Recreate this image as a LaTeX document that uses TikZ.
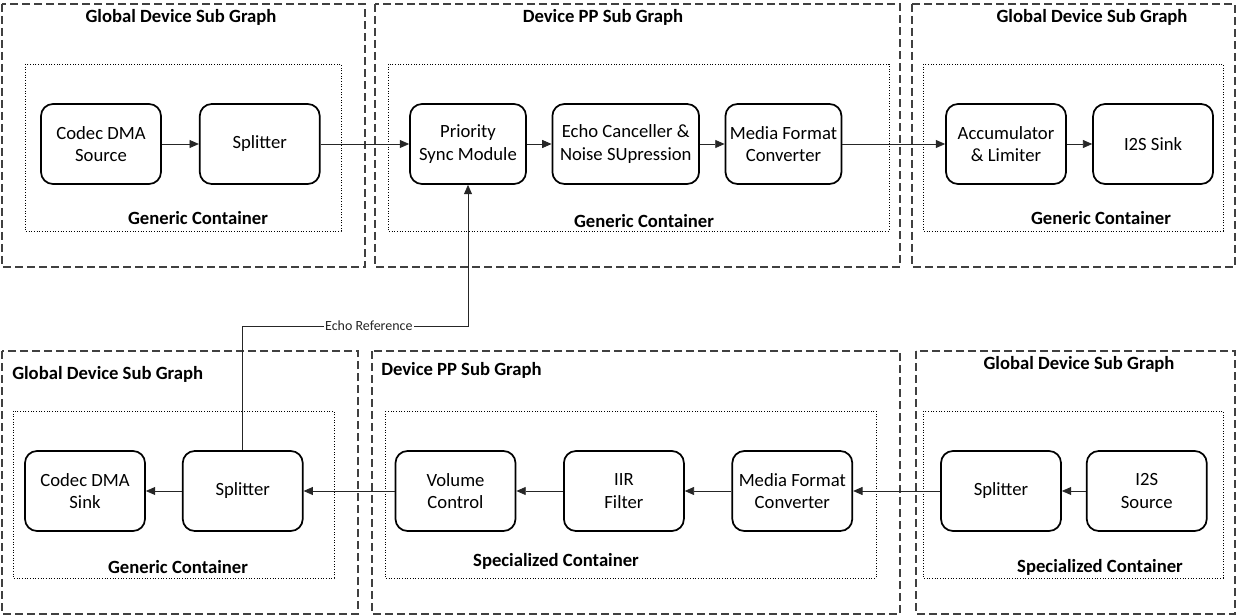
\documentclass[tikz,border=0pt]{standalone}
\usepackage{fontspec}
\setmainfont{Carlito}
\usetikzlibrary{arrows.meta, positioning, calc}
\definecolor{frameGray}{HTML}{404040}
\definecolor{wireGray}{HTML}{262626}
\tikzset{
  modBox/.style={rectangle, rounded corners=9pt, draw=black, line width=1.3pt,
                 fill=white, align=center, font=\fontsize{14}{17}\selectfont,
                 minimum width=90pt, minimum height=60pt, inner sep=2pt},
  outerBox/.style={draw=frameGray, line width=1.1pt, dash pattern=on 6pt off 3pt},
  innerBox/.style={draw=black, line width=0.6pt, dash pattern=on 0.8pt off 1.2pt},
  arrowK/.style={-{Triangle[length=7pt, width=6pt]}, wireGray, line width=0.6pt},
  graphTitle/.style={font=\bfseries\fontsize{14}{16}\selectfont, inner sep=0pt},
  contTitle/.style={font=\bfseries\fontsize{14}{16}\selectfont, inner sep=0pt},
}

\begin{document}
\begin{tikzpicture}[x=0.75pt, y=-0.75pt]
    \useasboundingbox (0,0) rectangle (1237,616);

    % frames, top row
    \draw[outerBox] (2,4) rectangle (365,267);
    \draw[outerBox] (375,4) rectangle (900,267);
    \draw[outerBox] (912,4) rectangle (1235,267);
    \draw[innerBox] (25,64) rectangle (341,231);
    \draw[innerBox] (388,64) rectangle (889,231);
    \draw[innerBox] (923,64) rectangle (1223,231);
    \node[graphTitle] (tA) at (181,17) {Global Device Sub Graph};
    \node[graphTitle] (tB) at (603,17) {Device PP Sub Graph};
    \node[graphTitle] (tC) at (1092,17) {Global Device Sub Graph};
    \node[contTitle] (cA) at (198,218) {Generic Container};
    \node[contTitle] (cB) at (644,221) {Generic Container};
    \node[contTitle] (cC) at (1101,218) {Generic Container};

    % frames, bottom row
    \draw[outerBox] (2,351) rectangle (358,614);
    \draw[outerBox] (372,351) rectangle (900,614);
    \draw[outerBox] (916,351) rectangle (1235,614);
    \draw[innerBox] (13,411) rectangle (334,578);
    \draw[innerBox] (385,411) rectangle (876,578);
    \draw[innerBox] (923,411) rectangle (1223,578);
    \node[graphTitle, anchor=west] (tD) at (12,374) {Global Device Sub Graph};
    \node[graphTitle, anchor=west] (tE) at (381,370) {Device PP Sub Graph};
    \node[graphTitle] (tF) at (1079,364) {Global Device Sub Graph};
    \node[contTitle] (cD) at (178,567) {Generic Container};
    \node[contTitle] (cE) at (556,561) {Specialized Container};
    \node[contTitle] (cF) at (1100,567) {Specialized Container};

    % capture path
    \node[modBox] (codecSrc) at (101,144) {Codec DMA\\Source};
    \node[modBox, right=27.75pt of codecSrc] (splA) {Splitter};
    \node[modBox, minimum width=87pt] (prio) at (468,144) {Priority\\Sync Module};
    \node[modBox, minimum width=110pt, right=18.5pt of prio] (echoC) {Echo Canceller \&\\Noise SUpression};
    \node[modBox, minimum width=87pt, right=18.5pt of echoC] (mfcA) {Media Format\\Converter};
    \node[modBox] (accum) at (1006,144) {Accumulator\\\& Limiter};
    \node[modBox, right=19pt of accum] (i2sSink) {I2S Sink};

    % playback path
    \node[modBox] (codecSink) at (85,491) {Codec DMA\\Sink};
    \node[modBox, right=27pt of codecSink] (splB) {Splitter};
    \node[modBox] (volCtl) at (455.5,491) {Volume\\Control};
    \node[modBox, right=35pt of volCtl] (iir) {IIR\\Filter};
    \node[modBox, right=35pt of iir] (mfcB) {Media Format\\Converter};
    \node[modBox] (splC) at (1001,491) {Splitter};
    \node[modBox, right=18pt of splC] (i2sSrc) {I2S\\Source};

    \draw[arrowK] (codecSrc) -- (splA);
    \draw[arrowK] (splA) -- (prio);
    \draw[arrowK] (prio) -- (echoC);
    \draw[arrowK] (echoC) -- (mfcA);
    \draw[arrowK] (mfcA) -- (accum);
    \draw[arrowK] (accum) -- (i2sSink);

    \draw[arrowK] (i2sSrc) -- (splC);
    \draw[arrowK] (splC) -- (mfcB);
    \draw[arrowK] (mfcB) -- (iir);
    \draw[arrowK] (iir) -- (volCtl);
    \draw[arrowK] (volCtl) -- (splB);
    \draw[arrowK] (splB) -- (codecSink);

    % echo reference
    \coordinate (echoY) at (0,326);
    \draw[arrowK] (splB.north) |- (echoY -| prio.south)
      node[pos=0.78, fill=white, inner sep=1pt, font=\fontsize{10.5}{12}\selectfont] (echoLbl) {Echo Reference}
      -- (prio.south);
\end{tikzpicture}
\end{document}
